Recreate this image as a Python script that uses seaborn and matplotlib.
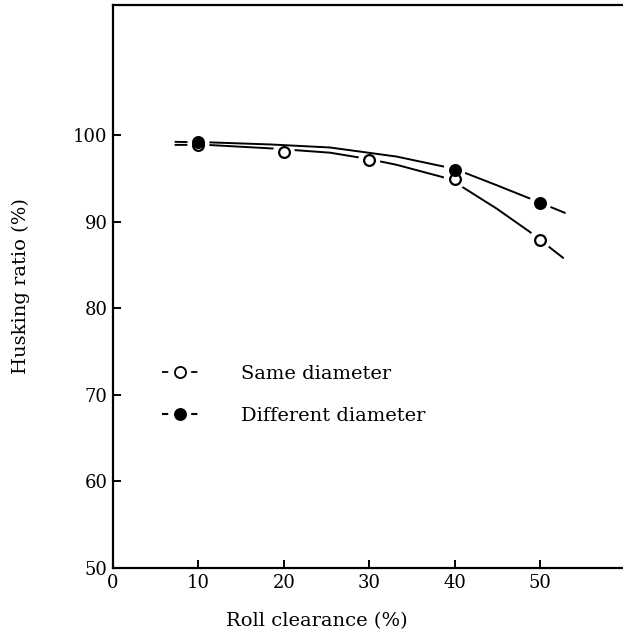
import numpy as np
import pandas as pd
import seaborn as sns
import matplotlib
matplotlib.use("Agg")
import matplotlib.pyplot as plt
from matplotlib.lines import Line2D

# ---- data ----
x_same = [10, 20, 30, 40, 50]
y_same = [98.8, 98.0, 97.1, 94.9, 87.9]
x_diff = [10, 40, 50]
y_diff = [99.15, 96.0, 92.1]

curve_x_same = [7.3, 11.0, 18.4, 25.4, 30.0, 33.2, 38.7, 40.4, 44.9, 48.8, 52.7]
curve_y_same = [98.85, 98.85, 98.45, 97.95, 97.2, 96.55, 95.1, 94.3, 91.5, 88.8, 85.8]
curve_x_diff = [7.3, 11.0, 18.4, 25.4, 33.2, 38.7, 40.6, 44.9, 49.2, 52.9]
curve_y_diff = [99.2, 99.15, 98.9, 98.55, 97.5, 96.35, 95.85, 94.2, 92.5, 91.0]

x_ticks = [0, 10, 20, 30, 40, 50]
y_ticks = [50, 60, 70, 80, 90, 100]
series_labels = ["Same diameter", "Different diameter"]

sns.set_style("ticks")
plt.rcParams["font.family"] = ["DejaVu Serif"]
plt.rcParams["text.color"] = "black"
plt.rcParams["axes.labelcolor"] = "black"
plt.rcParams["lines.scale_dashes"] = False

fig = plt.figure(figsize=(6.23, 6.42), dpi=100)
ax = fig.add_axes([113 / 623, 74 / 642, 510 / 623, 563 / 642])

df_cs = pd.DataFrame({"x": curve_x_same, "y": curve_y_same})
df_cd = pd.DataFrame({"x": curve_x_diff, "y": curve_y_diff})
df_s = pd.DataFrame({"x": x_same, "y": y_same})
df_d = pd.DataFrame({"x": x_diff, "y": y_diff})

# lower curve + its gaps
sns.lineplot(data=df_cs, x="x", y="y", ax=ax, color="black", lw=1.4, zorder=2, sort=True)
sns.scatterplot(data=df_s, x="x", y="y", ax=ax, s=250, color="white",
                edgecolor="none", linewidth=0, zorder=3)
# upper curve + its gaps
sns.lineplot(data=df_cd, x="x", y="y", ax=ax, color="black", lw=1.4, zorder=4, sort=True)
sns.scatterplot(data=df_d, x="x", y="y", ax=ax, s=250, color="white",
                edgecolor="none", linewidth=0, zorder=5)
# markers
sns.scatterplot(data=df_s, x="x", y="y", ax=ax, s=60, color="white",
                edgecolor="black", linewidth=1.6, zorder=6)
sns.scatterplot(data=df_d, x="x", y="y", ax=ax, s=60, color="black",
                edgecolor="black", linewidth=1.6, zorder=7)

ax.set_xlim(0, 59.7)
ax.set_ylim(50, 115)
ax.set_xticks(x_ticks)
ax.set_yticks(y_ticks)
ax.set_xticklabels([str(v) for v in x_ticks])
ax.set_yticklabels([str(v) for v in y_ticks])
ax.tick_params(direction="in", length=6, width=1.4, labelsize=13, colors="black")
ax.tick_params(axis="y", pad=4)
ax.tick_params(axis="x", pad=4)

for s in ["left", "bottom", "top"]:
    ax.spines[s].set_linewidth(1.6)
    ax.spines[s].set_color("black")
ax.spines["right"].set_visible(False)

ax.set_xlabel("Roll clearance (%)", fontsize=14)
ax.set_ylabel("Husking ratio (%)", fontsize=14)
ax.xaxis.set_label_coords(0.40, -0.079)
ax.yaxis.set_label_coords(-0.163, 0.50)

dash = (0, (4.5, 16.5))
h_same = (Line2D([], [], color="black", lw=1.3, linestyle=dash),
          Line2D([], [], marker="o", ms=8, mfc="white", mec="black", mew=1.3, ls="none"))
h_diff = (Line2D([], [], color="black", lw=1.5, linestyle=dash),
          Line2D([], [], marker="o", ms=8, mfc="black", mec="black", mew=1.3, ls="none"))
leg = ax.legend([h_same, h_diff], series_labels, loc="upper left",
                bbox_to_anchor=(0.062, 0.392), frameon=False, fontsize=14,
                handlelength=1.83, handletextpad=2.25, labelspacing=1.25)

fig.savefig("out.png", dpi=100, facecolor="white")
